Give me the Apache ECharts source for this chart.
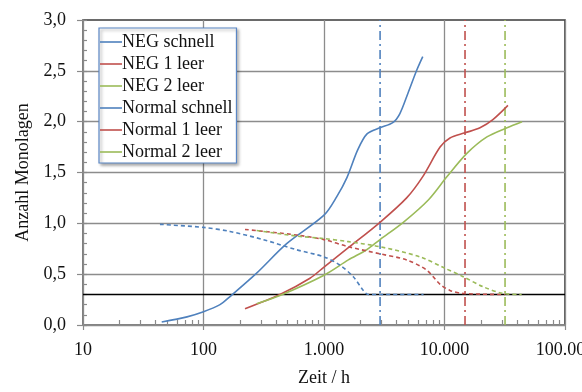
<!DOCTYPE html>
<html>
<head>
<meta charset="utf-8">
<script src="https://cdn.jsdelivr.net/npm/echarts@6/dist/echarts.min.js"></script>
<style>
html,body{margin:0;padding:0;background:#fff;}
#c{width:582px;height:392px;}
</style>
</head>
<body>
<div id="c"></div>
<script>
// ---- data (x = Zeit / h, y = Anzahl Monolagen) ----
var seriesNames = ["NEG schnell", "NEG 1 leer", "NEG 2 leer", "Normal schnell", "Normal 1 leer", "Normal 2 leer"];
var seriesColors = ["#4F81BD", "#C0504D", "#9BBB59", "#4F81BD", "#C0504D", "#9BBB59"];

var negSchnellX = [45, 73, 100, 137, 166, 276, 490, 1000, 1273, 1550, 1900, 2275, 2917, 3720, 4265, 4975, 5900, 6600];
var negSchnellY = [0.03, 0.08, 0.13, 0.20, 0.28, 0.51, 0.80, 1.08, 1.26, 1.45, 1.72, 1.88, 1.94, 1.99, 2.08, 2.28, 2.51, 2.64];

var neg1X = [221, 431, 765, 1000, 1593, 2917, 4850, 6600, 9190, 11100, 14800, 19700, 25200, 33600];
var neg1Y = [0.16, 0.30, 0.46, 0.57, 0.76, 1.01, 1.25, 1.46, 1.75, 1.84, 1.89, 1.94, 2.02, 2.16];

var neg2X = [276, 431, 1000, 1593, 2260, 2917, 4550, 7340, 10500, 15400, 22500, 33000, 44000];
var neg2Y = [0.21, 0.29, 0.49, 0.64, 0.74, 0.84, 1.01, 1.23, 1.46, 1.69, 1.85, 1.94, 2.00];

var normSchnellX = [43.5, 100, 166, 313, 593, 1000, 1350, 1750, 2120, 2330, 6700];
var normSchnellY = [0.99, 0.96, 0.92, 0.84, 0.74, 0.67, 0.59, 0.475, 0.34, 0.30, 0.30];

var norm1X = [221, 593, 1000, 1593, 2917, 4850, 7110, 9190, 11100, 14300, 31800];
var norm1Y = [0.94, 0.885, 0.84, 0.77, 0.70, 0.64, 0.54, 0.40, 0.34, 0.31, 0.30];

var norm2X = [276, 593, 1000, 1593, 2917, 6270, 10000, 14300, 21000, 30700, 43700];
var norm2Y = [0.93, 0.875, 0.85, 0.82, 0.77, 0.67, 0.56, 0.475, 0.375, 0.31, 0.30];

// reference lines
var limitY = 0.3;                        // horizontal black line
var endTimes = [2920, 14800, 31800];     // vertical dash-dot lines (blue, red, green)
var endColors = ["#4F81BD", "#C0504D", "#9BBB59"];

// axes
var xMin = 10, xMax = 100000;
var yMin = 0, yMax = 3, yInterval = 0.5;
var xTickLabels = ["10", "100", "1.000", "10.000", "100.000"];

// ---- build ----
function zip(xs, ys) { return xs.map(function (x, i) { return [x, ys[i]]; }); }
var allX = [negSchnellX, neg1X, neg2X, normSchnellX, norm1X, norm2X];
var allY = [negSchnellY, neg1Y, neg2Y, normSchnellY, norm1Y, norm2Y];

var minorX = [];
for (var d = 10; d < xMax; d *= 10) { for (var m = 2; m <= 9; m++) minorX.push(m * d); }
var minorY = [];
for (var k = 0; k <= 30; k++) minorY.push(+(k * 0.1).toFixed(1));

var FONT = "'Liberation Serif', 'Times New Roman', serif";
var FS = 18;

var series = [];
series.push({
  name: "Grenze", type: "line", xAxisIndex: 0, yAxisIndex: 0,
  data: [[xMin, limitY], [xMax, limitY]],
  showSymbol: false, symbol: "none", silent: true,
  lineStyle: { color: "#000", width: 1.6 }, z: 2
});
endTimes.forEach(function (t, i) {
  series.push({
    name: "Ende" + i, type: "line",
    data: [[t, yMin], [t, yMax]],
    showSymbol: false, symbol: "none", silent: true,
    lineStyle: { color: endColors[i], width: 1.6, type: [9, 4, 2, 4] }, z: 2
  });
});
seriesNames.forEach(function (n, i) {
  series.push({
    name: n, type: "line",
    data: zip(allX[i], allY[i]),
    smooth: 0.3,
    showSymbol: false, symbol: "none",
    color: seriesColors[i],
    lineStyle: { color: seriesColors[i], width: 1.6, type: i >= 3 ? [4, 3] : "solid" },
    z: 3
  });
});

var chart = echarts.init(document.getElementById("c"), null, { renderer: "canvas" });
chart.setOption({
  animation: false,
  backgroundColor: "#fff",
  textStyle: { fontFamily: FONT },
  grid: {
    left: 83, right: 17, top: 20, bottom: 67,
    containLabel: false, outerBoundsMode: "none",
    show: true, borderColor: "#3a3a3a", borderWidth: 1.6, backgroundColor: "transparent"
  },
  legend: {
    data: seriesNames,
    orient: "vertical",
    left: 99, top: 28,
    padding: [5, 4, 2, 1],
    itemGap: 4,
    itemWidth: 22, itemHeight: 1.6,
    icon: "rect",
    backgroundColor: "#fff",
    borderColor: "#5B87C5", borderWidth: 1.2, borderRadius: 0,
    shadowColor: "rgba(0,0,0,0.35)", shadowBlur: 3, shadowOffsetX: 2, shadowOffsetY: 2,
    textStyle: { fontFamily: FONT, fontSize: FS, color: "#111", padding: [0, 0, 0, -5], lineHeight: 18 }
  },
  xAxis: [{
    type: "log", logBase: 10, min: xMin, max: xMax,
    name: "Zeit / h", nameLocation: "middle", nameGap: 44,
    nameTextStyle: { fontFamily: FONT, fontSize: FS, color: "#111" },
    axisLine: { show: true, lineStyle: { color: "#8a8a8a", width: 1.5 } },
    axisTick: { show: true, inside: false, length: 5, lineStyle: { color: "#8a8a8a", width: 1.2 } },
    axisLabel: {
      margin: 16, fontFamily: FONT, fontSize: FS, color: "#111",
      formatter: function (v) {
        var p = Math.round(Math.log10(v)) - 1;
        return xTickLabels[p] !== undefined ? xTickLabels[p] : "";
      }
    },
    splitLine: { show: true, lineStyle: { color: "#8c8c8c", width: 1.3 } },
    minorTick: { show: false }
  }, {
    type: "log", logBase: 10, min: xMin, max: xMax, position: "bottom",
    axisLine: { show: false },
    axisLabel: { show: false },
    splitLine: { show: false },
    axisTick: { show: true, inside: true, length: 5, customValues: minorX, lineStyle: { color: "#8a8a8a", width: 1.2 } }
  }],
  yAxis: [{
    type: "value", min: yMin, max: yMax, interval: yInterval,
    name: "Anzahl Monolagen", nameLocation: "middle", nameGap: 49,
    nameTextStyle: { fontFamily: FONT, fontSize: FS, color: "#111" },
    axisLine: { show: true, lineStyle: { color: "#8a8a8a", width: 1.5 } },
    axisTick: { show: true, inside: false, length: 6, lineStyle: { color: "#8a8a8a", width: 1.2 } },
    axisLabel: {
      margin: 17, fontFamily: FONT, fontSize: FS, color: "#111",
      formatter: function (v) { return v.toFixed(1).replace(".", ","); }
    },
    splitLine: { show: true, showMaxLine: false, lineStyle: { color: "#8c8c8c", width: 1.3 } }
  }, {
    type: "value", min: yMin, max: yMax, position: "left",
    axisLine: { show: false },
    axisLabel: { show: false },
    splitLine: { show: false },
    axisTick: { show: true, inside: true, length: 4, customValues: minorY, lineStyle: { color: "#8a8a8a", width: 1.2 } }
  }],
  series: series
});
</script>
</body>
</html>
